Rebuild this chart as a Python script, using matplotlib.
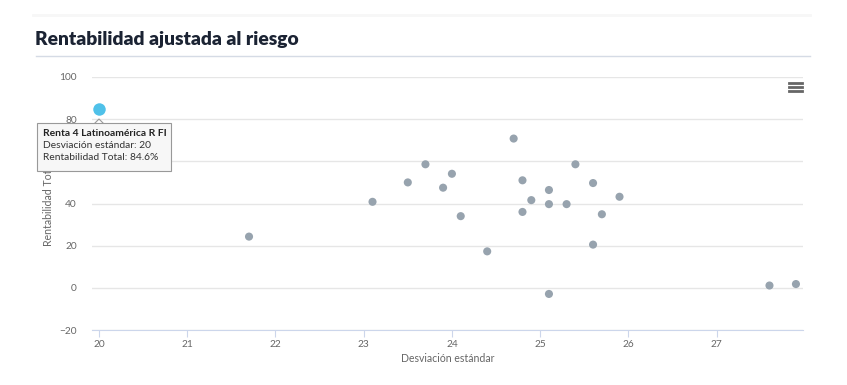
import matplotlib.pyplot as plt
from matplotlib.lines import Line2D
from matplotlib.patches import FancyBboxPatch

# volatilidad (x) y rentabilidad total (y) de cada fondo
desviacion = [21.7, 23.1, 23.5, 23.7, 23.9, 24.0, 24.1, 24.4, 24.7, 24.8, 24.8,
              24.9, 25.1, 25.1, 25.1, 25.3, 25.4, 25.6, 25.6, 25.7, 25.9, 27.6, 27.9]
rentabilidad = [24.3, 40.8, 50.0, 58.6, 47.5, 54.1, 34.0, 17.3, 70.8, 51.0, 36.0,
                41.6, 46.4, 39.7, -2.9, 39.7, 58.6, 49.7, 20.5, 34.9, 43.2, 1.1, 1.8]
sel_nombre = "Renta 4 Latinoamérica R FI"
sel_x = [20]
sel_y = [84.6]
yticks = [-20, 0, 20, 40, 60, 80, 100]
xticks = [20, 21, 22, 23, 24, 25, 26, 27]

W, H = 847, 385
plt.rcParams['font.family'] = ['Lato', 'DejaVu Sans']
fig = plt.figure(figsize=(W / 100, H / 100), dpi=100)

def fx(px):
    return px / W

def fy(py):
    return 1 - py / H

ax = fig.add_axes([fx(92), fy(330), fx(803) - fx(92), fy(77) - fy(330)])
ax.set_xlim(19.92, 27.98)
ax.set_ylim(-20, 100)
ax.set_yticks(yticks)
ax.set_xticks(xticks)
ax.grid(axis="y", color="#e6e6e6", linewidth=1)
ax.set_axisbelow(True)
for s in ["top", "right", "left"]:
    ax.spines[s].set_visible(False)
ax.spines["bottom"].set_color("#ccd6eb")
ax.tick_params(axis="y", length=0, labelsize=7.3, labelcolor="#666666", pad=11)
ax.tick_params(axis="x", length=5, color="#ccd6eb", labelsize=7.3,
               labelcolor="#666666", pad=2)
ax.set_xlabel("Desviación estándar", fontsize=7.6, color="#666666", labelpad=3)
ax.set_ylabel("Rentabilidad Total", fontsize=7.6, color="#666666", labelpad=4)

ax.scatter(desviacion, rentabilidad, s=34, color="#97a3ae", edgecolors="none",
           zorder=3)
ax.scatter(sel_x, sel_y, s=110, color="#4fc1e9", edgecolors="white",
           linewidths=1.5, zorder=4, clip_on=False)

# title + separators
fig.text(fx(35), fy(39), "Rentabilidad ajustada al riesgo", fontsize=13.9,
         fontweight="heavy", color="#1b2333", va="center", ha="left")
fig.add_artist(Line2D([fx(36), fx(810)], [fy(56), fy(56)], color="#d5dbe5",
                      linewidth=1))
fig.add_artist(Line2D([fx(33), fx(810)], [fy(15), fy(15)], color="#f7f7f7",
                      linewidth=2))

# menu icon
for py in [83, 87, 91]:
    fig.add_artist(Line2D([fx(789), fx(802)], [fy(py), fy(py)],
                          color="#666666", linewidth=2))

# tooltip
box = FancyBboxPatch((fx(37), fy(171)), fx(171) - fx(37), fy(123) - fy(171),
                     boxstyle="square,pad=0", transform=fig.transFigure,
                     facecolor="#f7f7f7", edgecolor="#999999", linewidth=0.8,
                     zorder=10)
fig.add_artist(box)
fig.add_artist(Line2D([fx(95), fx(99), fx(103)], [fy(123), fy(119), fy(123)],
                      color="#999999", linewidth=0.8, zorder=11))
fig.text(fx(43), fy(133), sel_nombre, fontsize=7.4, fontweight="bold",
         color="#222222", va="center", zorder=12)
fig.text(fx(43), fy(145), "Desviación estándar: 20", fontsize=7.4,
         color="#333333", va="center", zorder=12)
fig.text(fx(43), fy(157), "Rentabilidad Total: 84.6%", fontsize=7.4,
         color="#333333", va="center", zorder=12)

fig.savefig("out.png", dpi=100)
